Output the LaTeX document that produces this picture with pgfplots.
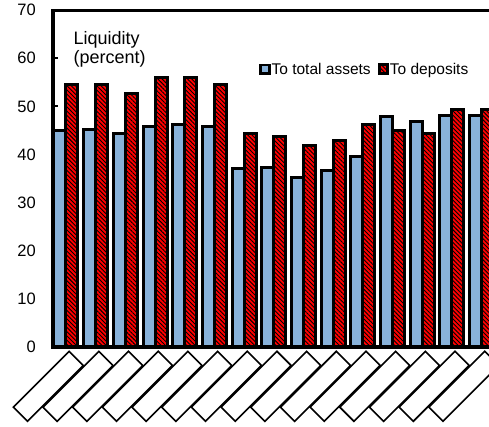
\documentclass[border=0pt]{standalone}
\usepackage{fontspec}
\setmainfont{Liberation Sans}
\usepackage{pgfplots}
\usepackage{pgfplotstable}
\pgfplotsset{compat=1.18}
\usetikzlibrary{calc,patterns.meta}

\definecolor{barblue}{RGB}{136,178,218}

% liquidity ratios, percent
\pgfplotstableread{
g assets deposits
0  45.1 54.5
1  45.3 54.5
2  44.4 52.7
3  45.8 56.0
4  46.3 56.0
5  45.8 54.5
6  37.1 44.4
7  37.3 43.7
8  35.3 41.9
9  36.6 42.9
10 39.6 46.2
11 48.0 45.0
12 46.8 44.4
13 48.2 49.3
14 48.2 49.3
}\liqdata

\begin{document}
\begin{tikzpicture}
\begin{axis}[
  width=436pt, height=336.8pt, scale only axis,
  xmin=-0.438, xmax=14.252,
  ymin=0, ymax=70,
  ybar=0pt, bar width=12pt,
  axis line style={draw=none},
  ytick={0,10,...,70}, ytick pos=left,
  tick align=inside, major tick length=5pt,
  ytick style={black, line width=2pt},
  /pgf/number format/assume math mode=true,
  yticklabel style={font=\fontsize{16.5}{18}\selectfont, inner sep=0pt, xshift=-17pt},
  xtick={0,...,14}, xtick style={draw=none},
  xticklabel={\strut},
  xticklabel style={draw=black, line width=1.6pt, fill=white, rotate=45,
    anchor=north east, minimum width=79pt, minimum height=20pt,
    inner sep=0pt, yshift=-4.5pt},
  legend columns=2,
  legend style={at={(0.473,0.825)}, anchor=west, draw=none, fill=none,
    inner sep=0pt, font=\fontsize{15.5}{18}\selectfont,
    nodes={inner sep=1pt},
    /tikz/every even column/.append style={column sep=6pt}},
  legend image code/.code={\draw[#1, line width=2.6pt] (0pt,-4.3pt) rectangle (8.6pt,4.3pt);},
]
\addplot[draw=black, line width=3pt, fill=barblue] table[x=g, y=assets] {\liqdata};
\addlegendentry{To total assets}
\addplot[draw=black, line width=3pt, preaction={fill=red},
  pattern={Lines[angle=-45, distance=3pt, line width=0.9pt]}, pattern color=black]
  table[x=g, y=deposits] {\liqdata};
\addlegendentry{To deposits}

\node[anchor=north west, align=left, inner sep=0pt,
  font=\fontsize{18}{19}\selectfont] at (rel axis cs:0.0466,0.938) {Liquidity\\(percent)};

\coordinate (sw) at (rel axis cs:0,0);
\coordinate (ne) at (rel axis cs:1,1);
\end{axis}
\draw[line width=3.2pt] (ne) -| (sw) -- (sw -| ne);
\pgfresetboundingbox
\path ($(sw)+(-53pt,-79pt)$) rectangle ($(ne)+(0pt,10.2pt)$);
\end{tikzpicture}
\end{document}
